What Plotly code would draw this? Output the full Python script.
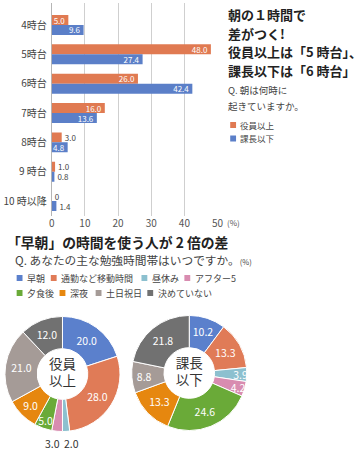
import plotly.graph_objects as go

W, H = 362, 450
FONT = "Noto Sans CJK JP"

# ---------------- data ----------------
hours = ["4時台", "5時台", "6時台", "7時台", "8時台", "9 時台", "10 時以降"]
executives = [5.0, 48.0, 26.0, 16.0, 3.0, 1.0, 0]
managers = [9.6, 27.4, 42.4, 13.6, 4.8, 0.8, 1.4]
bar_names = ["役員以上", "課長以下"]
x_ticks = [0, 10, 20, 30, 40, 50]

study_labels = ["早朝", "通勤など移動時間", "昼休み", "アフター5",
                "夕食後", "深夜", "土日祝日", "決めていない"]
study_exec = [20.0, 28.0, 2.0, 3.0, 5.0, 9.0, 21.0, 12.0]
study_mgr = [10.2, 13.3, 3.9, 4.2, 24.6, 13.3, 8.8, 21.8]
pie_names = ["役員<br>以上", "課長<br>以下"]

# ---------------- styles ----------------
BAR_COLORS = ["#e07a52", "#5b7fc8"]
PIE_COLORS = ["#5b80cc", "#e07b57", "#8cc0cf", "#d88cb0",
              "#6aaa38", "#e6870f", "#a59b97", "#717171"]
SMALL = 3.5  # slices below this get their label under the ring


def px(x):
    return x / W


def py(y):
    return 1 - y / H


def fmt(v):
    return "0" if v == 0 else f"{v:.1f}"


fig = go.Figure()

for name, vals, col in zip(bar_names, [executives, managers], BAR_COLORS):
    fig.add_trace(go.Bar(
        y=hours, x=vals, orientation="h", name=name,
        marker=dict(color=col, line=dict(width=0)),
        text=[fmt(v) for v in vals],
        textposition=["inside" if v >= 4 else "outside" for v in vals],
        insidetextanchor="end",
        insidetextfont=dict(color="white", size=8, family=FONT),
        outsidetextfont=dict(color="#444", size=8, family=FONT),
        constraintext="none", cliponaxis=False,
        showlegend=False, xaxis="x", yaxis="y",
    ))

pie_domains = [
    dict(x=[px(2), px(120)], y=[py(433), py(315)]),
    dict(x=[px(132), px(250)], y=[py(432), py(314)]),
]
for vals, title, dom in zip([study_exec, study_mgr], pie_names, pie_domains):
    fig.add_trace(go.Pie(
        labels=study_labels, values=vals, sort=False, direction="clockwise",
        rotation=0, hole=0.44, domain=dom,
        marker=dict(colors=PIE_COLORS, line=dict(color="white", width=1)),
        text=[f"{v:.1f}" for v in vals], textinfo="text",
        textposition=["none" if v < SMALL else "inside" for v in vals],
        insidetextorientation="horizontal",
        insidetextfont=dict(color="white", size=10.5, family=FONT),
        title=dict(text=title, position="middle center",
                   font=dict(size=13.5, color="#333", family=FONT)),
        showlegend=False, hoverinfo="label+value",
    ))

annotations = []
shapes = []


def note(text, x, y, size, color="#333", bold=False, xanchor="left"):
    if bold:
        text = f"<b>{text}</b>"
    annotations.append(dict(
        text=text, x=px(x), y=py(y), xref="paper", yref="paper",
        xanchor=xanchor, yanchor="middle", showarrow=False, borderpad=0,
        font=dict(size=size, color=color, family=FONT)))


def key(x, y, color, size=6):
    shapes.append(dict(type="rect", xref="paper", yref="paper",
                       x0=px(x), x1=px(x + size),
                       y0=py(y + size / 2), y1=py(y - size / 2),
                       fillcolor=color, line=dict(width=0)))


# (%) unit for bar axis
note("(%)", 229, 222, 8, "#555")

# right-hand title block
for i, line in enumerate(["朝の１時間で", "差がつく!", "役員以上は「5 時台」、",
                          "課長以下は「6 時台」"]):
    note(line, 230, 15 + i * 18.5, 13, "#222", bold=True)
note("Q. 朝は何時に", 230, 90, 9.5, "#444")
note("起きていますか。", 230, 106, 9.5, "#444")
for i, (name, col) in enumerate(zip(bar_names, BAR_COLORS)):
    key(233, 125 + i * 13.5, col)
    note(name, 242, 125 + i * 13.5, 8.5, "#444")

# labels of the tiny slices, under the left ring
small_x = {2: 70, 3: 51}
for idx, v in enumerate(study_exec):
    if v < SMALL:
        note(f"{v:.1f}", small_x[idx], 443, 10.5, "#333", xanchor="center")

# pie section header
note("「早朝」の時間を使う人が 2 倍の差", 3, 242, 13.8, "#222", bold=True)
note('Q. あなたの主な勉強時間帯はいつですか。<span style="font-size:7.5px">(%)</span>',
     11, 259, 11.7, "#444")
leg_x = [14, 49, 142, 186, 14, 58, 95, 148]
leg_y = [278, 278, 278, 278, 293, 293, 293, 293]
for lab, col, lx, ly in zip(study_labels, PIE_COLORS, leg_x, leg_y):
    key(lx, ly, col)
    note(lab, lx + 9.5, ly, 9, "#444")

fig.update_layout(
    width=W, height=H, margin=dict(l=0, r=0, t=0, b=0),
    paper_bgcolor="white", plot_bgcolor="white",
    font=dict(family=FONT, color="#444"),
    uniformtext=dict(mode="show", minsize=8),
    barmode="group", bargap=0.32, bargroupgap=0,
    xaxis=dict(domain=[px(50), px(220)], range=[0, 50], tickvals=x_ticks,
               showgrid=True, gridcolor="#cfcfcf", gridwidth=1,
               zeroline=True, zerolinecolor="#b5b5b5", zerolinewidth=1,
               showline=False, ticks="", tickfont=dict(size=10, color="#555"),
               anchor="y", fixedrange=True),
    yaxis=dict(domain=[py(215.7), py(3)], type="category",
               range=[6.5, -0.75], showgrid=False, zeroline=False,
               ticks="", ticklabelstandoff=4,
               tickfont=dict(size=10, color="#444"), anchor="x",
               fixedrange=True),
    annotations=annotations,
    shapes=shapes,
)

fig.write_html(
    "out.html",
    config={"displayModeBar": False},
    post_script="document.body.style.margin='0';document.body.style.overflow='hidden';",
)
